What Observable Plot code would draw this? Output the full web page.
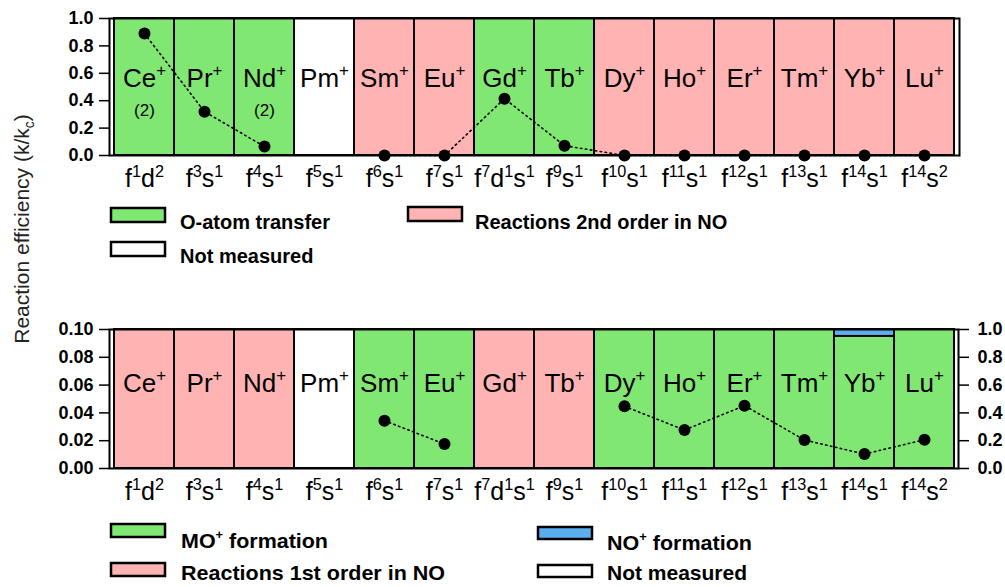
<!DOCTYPE html>
<html><head><meta charset="utf-8">
<script src="https://cdn.jsdelivr.net/npm/d3@7"></script>
<script src="https://cdn.jsdelivr.net/npm/@observablehq/plot@0.6"></script>
<style>
body{margin:0;background:#fff;}
#wrap{position:relative;width:1005px;height:587px;overflow:hidden;font-family:"Liberation Sans",Arial,sans-serif;}
#wrap > svg, #wrap > figure{position:absolute;left:0;margin:0;}
.yt [aria-label="y-axis tick label"]{font-weight:bold;}
</style></head><body><div id="wrap"></div>
<script>
// ---- data ----
const elements = ["Ce","Pr","Nd","Pm","Sm","Eu","Gd","Tb","Dy","Ho","Er","Tm","Yb","Lu"];
const configurations = ["f¹d²","f³s¹","f⁴s¹","f⁵s¹","f⁶s¹","f⁷s¹","f⁷d¹s¹","f⁹s¹","f¹⁰s¹","f¹¹s¹","f¹²s¹","f¹³s¹","f¹⁴s¹","f¹⁴s²"];
const topCategory = ["O-atom transfer","O-atom transfer","O-atom transfer","Not measured","Reactions 2nd order in NO","Reactions 2nd order in NO","O-atom transfer","O-atom transfer","Reactions 2nd order in NO","Reactions 2nd order in NO","Reactions 2nd order in NO","Reactions 2nd order in NO","Reactions 2nd order in NO","Reactions 2nd order in NO"];
const topEfficiency = [0.89,0.32,0.065,null,0,0,0.415,0.072,0,0,0,0,0,0];
const topNotes = ["(2)","","(2)","","","","","","","","","","",""];
const bottomCategory = ["Reactions 1st order in NO","Reactions 1st order in NO","Reactions 1st order in NO","Not measured","MO⁺ formation","MO⁺ formation","Reactions 1st order in NO","Reactions 1st order in NO","MO⁺ formation","MO⁺ formation","MO⁺ formation","MO⁺ formation","MO⁺ formation","MO⁺ formation"];
const bottomEfficiency = [null,null,null,null,0.0344,0.0176,null,null,0.0447,0.0277,0.0452,0.0205,0.0104,0.0207];
const noPlusFraction = [0,0,0,0,0,0,0,0,0,0,0,0,0.05,0]; // right axis (product fraction)
const topTicks = [0,0.2,0.4,0.6,0.8,1.0];
const bottomTicks = [0,0.02,0.04,0.06,0.08,0.10];
const categoryNames = ["O-atom transfer","Reactions 2nd order in NO","Not measured","MO⁺ formation","Reactions 1st order in NO","NO⁺ formation"];
const categoryColors = ["#80E872","#FFB3B3","#FFFFFF","#80E872","#FFB3B3","#5AAEF0"];
const yTitle = "Reaction efficiency (k/k";

const wrap = document.getElementById("wrap");
const colorScale = {domain: categoryNames, range: categoryColors};
const cfgOf = el => configurations[elements.indexOf(el)];

// superscript characters -> raised tspans (text stays real text)
const supMap = {"⁰":"0","¹":"1","²":"2","³":"3","⁴":"4","⁵":"5","⁶":"6","⁷":"7","⁸":"8","⁹":"9","⁺":"+"};
function supify(root, scale){
  root.querySelectorAll("text").forEach(t=>{
    if (t.querySelector("tspan")) return;
    const s = t.textContent;
    if (![...s].some(c=>supMap[c]!==undefined)) return;
    const fs = parseFloat(getComputedStyle(t).fontSize);
    t.textContent = "";
    const runs = s.match(/[⁰¹²³⁴⁵⁶⁷⁸⁹⁺]+|[^⁰¹²³⁴⁵⁶⁷⁸⁹⁺]+/g);
    let shifted = 0;
    runs.forEach(r=>{
      const sp = document.createElementNS("http://www.w3.org/2000/svg","tspan");
      const isSup = supMap[r[0]]!==undefined;
      const target = isSup ? -fs*0.42 : 0;
      sp.setAttribute("dy", target - shifted); shifted = target;
      if (isSup){ sp.setAttribute("font-size", fs*(scale||0.65)); sp.textContent=[...r].map(c=>supMap[c]).join(""); }
      else sp.textContent = r;
      t.appendChild(sp);
    });
  });
}

// ---- top panel ----
const topData = elements.map((e,i)=>({el:e, cat:topCategory[i], eff:topEfficiency[i], note:topNotes[i]}));
const topPlot = Plot.plot({
  width:1005, height:200, marginLeft:109, marginRight:46, marginTop:18, marginBottom:45,
  style:{fontFamily:"Liberation Sans, Arial, sans-serif", color:"black", background:"transparent"},
  x:{type:"band", domain:elements, padding:0},
  y:{domain:[0,1]},
  color:colorScale,
  marks:[
    Plot.barY(topData,{x:"el", y1:0, y2:1, fill:"cat", stroke:"black", strokeWidth:2}),
    Plot.text(topData,{x:"el", y:0.56, text:d=>d.el+"⁺", fontSize:26}),
    Plot.text(topData.filter(d=>d.note),{x:"el", y:0.33, text:"note", fontSize:17}),
    Plot.line(topData,{x:"el", y:"eff", stroke:"black", strokeWidth:1.6, strokeDasharray:"1.5,3.5", strokeLinecap:"round"}),
    Plot.dot(topData.filter(d=>d.eff!=null),{x:"el", y:"eff", r:6, fill:"black"}),
    Plot.frame({stroke:"black", strokeWidth:2}),
    Plot.axisY({ticks:topTicks, tickFormat:d=>d.toFixed(1), tickSize:10, tickPadding:6, fontSize:18, label:null, strokeWidth:1.5}),
    Plot.axisX({tickFormat:cfgOf, tickSize:0, tickPadding:14, fontSize:25, label:null})
  ]
});
topPlot.classList.add("yt");
topPlot.style.top = "0px";
wrap.appendChild(topPlot);

// ---- bottom panel ----
const botData = elements.map((e,i)=>({el:e, cat:bottomCategory[i], eff:bottomEfficiency[i], no:noPlusFraction[i]}));
const botPlot = Plot.plot({
  width:1005, height:200, marginLeft:109, marginRight:47, marginTop:19, marginBottom:42,
  style:{fontFamily:"Liberation Sans, Arial, sans-serif", color:"black", background:"transparent"},
  x:{type:"band", domain:elements, padding:0},
  y:{domain:[0,0.1]},
  color:colorScale,
  marks:[
    Plot.barY(botData,{x:"el", y1:0, y2:0.1, fill:"cat", stroke:"black", strokeWidth:2}),
    Plot.barY(botData.filter(d=>d.no>0),{x:"el", y1:d=>0.1*(1-d.no), y2:0.1, fill:()=>"NO⁺ formation", stroke:"black", strokeWidth:2}),
    Plot.text(botData,{x:"el", y:0.061, text:d=>d.el+"⁺", fontSize:26}),
    Plot.line(botData,{x:"el", y:"eff", stroke:"black", strokeWidth:1.6, strokeDasharray:"1.5,3.5", strokeLinecap:"round"}),
    Plot.dot(botData.filter(d=>d.eff!=null),{x:"el", y:"eff", r:6, fill:"black"}),
    Plot.frame({stroke:"black", strokeWidth:2}),
    Plot.axisY({ticks:bottomTicks, tickFormat:d=>d.toFixed(2), tickSize:10, tickPadding:6, fontSize:18, label:null, strokeWidth:1.5}),
    Plot.axisY({anchor:"right", ticks:bottomTicks, tickFormat:d=>(d*10).toFixed(1), tickSize:10, tickPadding:9, fontSize:18, label:null, strokeWidth:1.5}),
    Plot.axisX({tickFormat:cfgOf, tickSize:0, tickPadding:14, fontSize:25, label:null})
  ]
});
botPlot.classList.add("yt");
botPlot.style.top = "310px";
wrap.appendChild(botPlot);

// ---- overlay: y title + legends ----
const ov = d3.create("svg").attr("width",1005).attr("height",587).style("top","0px").style("pointer-events","none")
  .style("font-family","Liberation Sans, Arial, sans-serif");
const t = ov.append("text").attr("transform","translate(29,229) rotate(-90)").attr("text-anchor","middle")
  .attr("font-size",21).attr("fill","#222");
t.append("tspan").text(yTitle);
t.append("tspan").attr("font-size",14).attr("dy",5).text("c");
t.append("tspan").attr("dy",-5).text(")");

const colorOf = name => categoryColors[categoryNames.indexOf(name)];
function legendItem(x, y, w, h, name, o){
  ov.append("rect").attr("x",x).attr("y",y).attr("width",w).attr("height",h)
    .attr("fill",colorOf(name)).attr("stroke","black").attr("stroke-width",2.5);
  const tx = ov.append("text").attr("x",o.x).attr("y",o.y).attr("font-size",o.size)
    .attr("font-weight",o.weight).text(name);
  if (o.len) tx.attr("textLength",o.len).attr("lengthAdjust","spacingAndGlyphs");
}
legendItem(111, 208, 54, 14, "O-atom transfer", {x:180, y:229, size:20, weight:"bold"});
legendItem(408, 207, 54, 14, "Reactions 2nd order in NO", {x:475, y:229, size:20, weight:"bold"});
legendItem(111, 242, 54, 14, "Not measured", {x:180, y:263, size:20, weight:"bold"});
legendItem(111, 524, 54, 13, "MO⁺ formation", {x:181, y:548, size:21, weight:"bold", len:147});
legendItem(111, 563, 54, 13, "Reactions 1st order in NO", {x:181, y:580, size:21, weight:"bold", len:264});
legendItem(538, 527, 54, 12, "NO⁺ formation", {x:607, y:550, size:21, weight:"bold", len:145});
legendItem(538, 565, 54, 12, "Not measured", {x:607, y:580, size:21, weight:"bold", len:140});
wrap.appendChild(ov.node());

supify(topPlot, 0.65);
supify(botPlot, 0.65);
supify(ov.node(), 0.6);
</script></body></html>
